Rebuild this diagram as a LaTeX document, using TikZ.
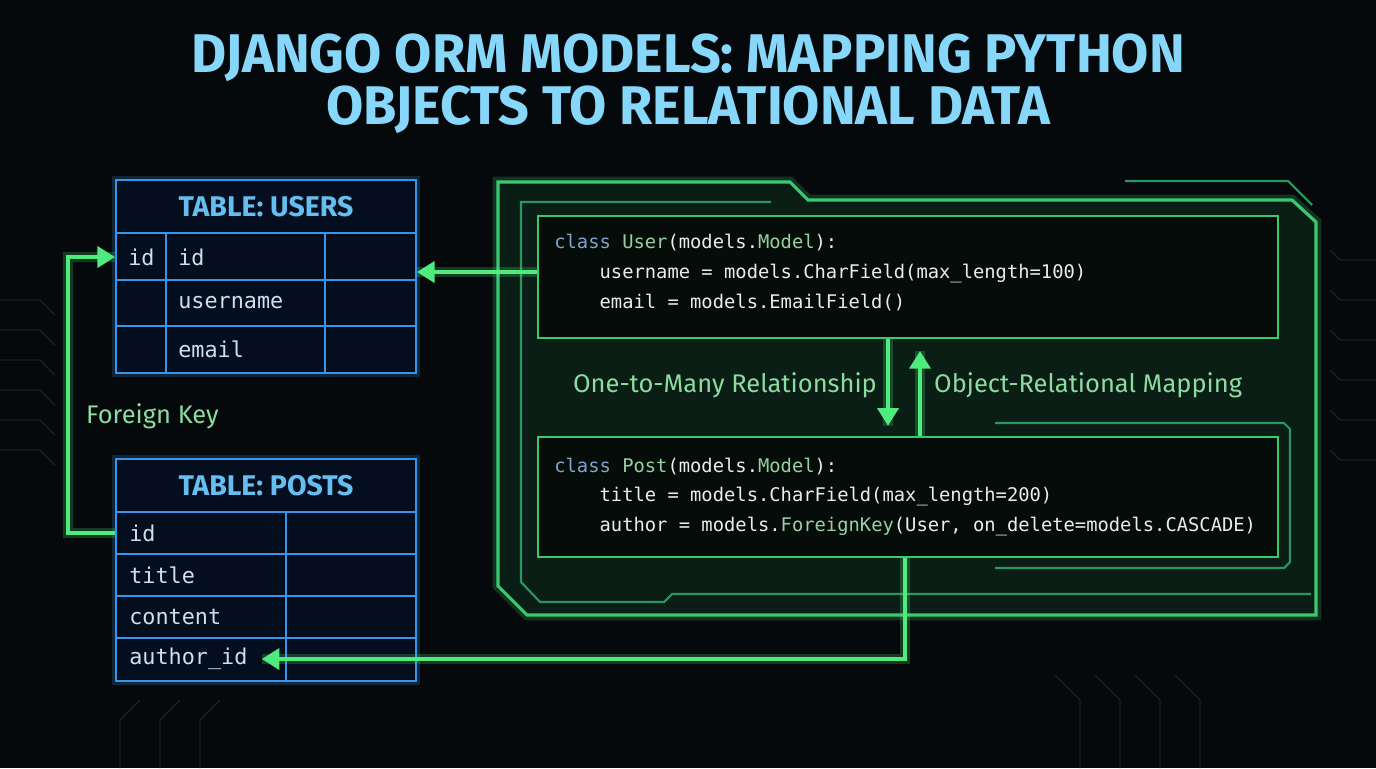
\documentclass[tikz,border=0pt]{standalone}
\usepackage{fontspec}
\setmainfont{Fira Sans}
\setmonofont{DejaVu Sans Mono}
\usetikzlibrary{arrows.meta}
\definecolor{bgdark}{RGB}{5,9,12}
\definecolor{trace}{RGB}{22,32,38}
\definecolor{titleblue}{RGB}{135,215,250}
\definecolor{tabblue}{RGB}{55,150,235}
\definecolor{tabbg}{RGB}{5,14,30}
\definecolor{headblue}{RGB}{100,190,240}
\definecolor{celltxt}{RGB}{205,225,235}
\definecolor{glowgreen}{RGB}{80,235,125}
\definecolor{framegreen}{RGB}{60,200,110}
\definecolor{dimgreen}{RGB}{45,150,95}
\definecolor{panelbg}{RGB}{10,30,22}
\definecolor{codebg}{RGB}{6,12,10}
\definecolor{codetxt}{RGB}{232,238,232}
\definecolor{kwblue}{RGB}{125,165,205}
\definecolor{clsgreen}{RGB}{150,210,160}
\definecolor{labgreen}{RGB}{140,220,160}

\begin{document}
\begin{tikzpicture}[x=0.02cm,y=-0.02cm,
  tab/.style={draw=tabblue,line width=1.2pt},
  cell/.style={anchor=west,inner sep=0pt,text=celltxt,font=\fontsize{12.4}{14}\ttfamily},
  head/.style={text=headblue,font=\fontsize{16.2}{18}\bfseries},
  titletext/.style={text=titleblue,font=\fontsize{31}{33}\bfseries},
  codebox/.style={draw=framegreen,line width=0.9pt,fill=codebg,minimum width=14.8cm},
  codetext/.style={anchor=west,align=left,inner sep=0pt,text=codetxt,font=\fontsize{10.7}{17}\ttfamily},
  lab/.style={text=labgreen,font=\fontsize{14.5}{16}\selectfont},
  flow/.style={draw=glowgreen,line width=2pt,-{Triangle[length=10pt,width=12pt]},
    preaction={draw=glowgreen,line width=6pt,opacity=.22,-}},
  frame/.style={draw=framegreen,line width=1.8pt,preaction={draw=glowgreen,line width=6pt,opacity=.18}},
  thin/.style={draw=dimgreen,line width=1.2pt}]
\fill[bgdark] (0,0) rectangle (1376,768);
\useasboundingbox (0,0) rectangle (1376,768);
\foreach \y in {300,330,360,390,420,450} \draw[trace,line width=0.8pt] (0,\y) -- (40,\y) -- (55,\y+15);
\foreach \y in {260,300,340,380,420,460} \draw[trace,line width=0.8pt] (1376,\y) -- (1340,\y) -- (1330,\y-10);
\foreach \x in {120,160,200} \draw[trace,line width=0.8pt] (\x,768) -- (\x,720) -- (\x+20,700);
\foreach \x in {1080,1120,1160,1200} \draw[trace,line width=0.8pt] (\x,768) -- (\x,700) -- (\x-25,675);
\node[titletext] (title1) at (688,58) {\scalebox{0.99}[1]{DJANGO ORM MODELS: MAPPING PYTHON}};
\node[titletext] (title2) at (688,110) {\scalebox{0.99}[1]{OBJECTS TO RELATIONAL DATA}};
\filldraw[fill=panelbg,frame] (498,182) -- (790,182) -- (808,200) -- (1292,200) -- (1316,222) -- (1316,615) -- (527,615) -- (498,586) -- cycle;
\draw[thin] (1125,181) -- (1288,181) -- (1312,205);
\draw[thin] (771,202) -- (521,202) -- (521,582) -- (540,602) -- (664,602) -- (672,594) -- (1311,594);
\draw[thin] (995,423) -- (1284,423) -- (1290,429) -- (1290,562) -- (1284,568) -- (995,568);
\node[codebox,minimum height=2.44cm] (ucode) at (908,277) {};
\node[codebox,minimum height=2.4cm] (pcode) at (908,497) {};
\node[codetext] (utxt) at (554,272.5) {\textcolor{kwblue}{class} \textcolor{clsgreen}{User}(models.\textcolor{clsgreen}{Model}):\\
\phantom{xxxx}username = models.CharField(max\_length=100)\\
\phantom{xxxx}email = models.EmailField()};
\node[codetext] (ptxt) at (554,497) {\textcolor{kwblue}{class} \textcolor{clsgreen}{Post}(models.\textcolor{clsgreen}{Model}):\\
\phantom{xxxx}title = models.CharField(max\_length=200)\\
\phantom{xxxx}author = models.\textcolor{clsgreen}{ForeignKey}(User, on\_delete=models.CASCADE)};
\node[tab,fill=tabbg,minimum width=6cm,minimum height=3.86cm,preaction={draw=tabblue,line width=5pt,opacity=.2}] (users) at (266,276.5) {};
\draw[tab] (116,233) -- (416,233) (116,280) -- (416,280) (116,326) -- (416,326) (166,233) -- (166,373) (325,233) -- (325,373);
\node[head] (uhead) at (266,207) {TABLE: USERS};
\node[cell] (uidk) at (128,257) {id}; \node[cell] (uid) at (178,257) {id};
\node[cell] (uname) at (178,303) {username}; \node[cell] (umail) at (178,349) {email};
\node[tab,fill=tabbg,minimum width=6cm,minimum height=4.44cm,preaction={draw=tabblue,line width=5pt,opacity=.2}] (posts) at (266,570) {};
\draw[tab] (116,512) -- (416,512) (116,554) -- (416,554) (116,596) -- (416,596) (116,638) -- (416,638) (286,512) -- (286,681);
\node[head] (phead) at (266,486) {TABLE: POSTS};
\node[cell] (pid) at (129,533) {id}; \node[cell] (ptitle) at (129,575) {title};
\node[cell] (pcont) at (129,617) {content}; \node[cell] (pauth) at (129,659) {author\_id};
\draw[flow] (ucode.west |- 0,272) -- (users.east |- 0,272);
\draw[flow] (posts.west |- pid) -- (68,533) |- (users.west |- uid);
\draw[flow] (pcode.south -| 905,0) |- ([xshift=8pt]pauth.east);
\draw[flow] (ucode.south -| 888,0) -- ([yshift=6pt]pcode.north -| 888,0);
\draw[flow] (pcode.north -| 920,0) -- ([yshift=-7pt]ucode.south -| 920,0);
\node[lab,anchor=west] (fk) at (80,416) {Foreign Key};
\node[lab,anchor=east] (otm) at (883,385) {One-to-Many Relationship};
\node[lab,anchor=west] (orm) at (928,385) {Object-Relational Mapping};
\end{tikzpicture}
\end{document}
